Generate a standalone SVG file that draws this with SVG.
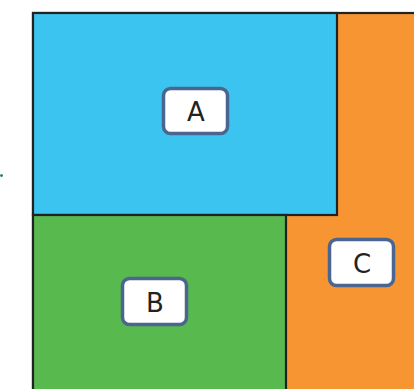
<svg xmlns="http://www.w3.org/2000/svg" width="414" height="389" viewBox="0 0 414 389">
<style>
.area{stroke:#222;stroke-width:2.2}
.lbl{fill:#fff;stroke:#4a6690;stroke-width:3.5}
.t{font-family:"DejaVu Sans",sans-serif;font-size:26px;fill:#222;text-anchor:middle;dominant-baseline:central}
</style>
<rect width="414" height="389" fill="#fff"/>
<g id="C">
<rect class="area" x="33" y="13" width="390" height="390" fill="#f79533"/>
<rect class="lbl" x="329.5" y="239.5" width="64" height="46" rx="7"/>
<text class="t" x="362" y="264">C</text>
</g>
<g id="A">
<rect class="area" x="33" y="13" width="304" height="202" fill="#3bc4ef"/>
<rect class="lbl" x="163.5" y="88.5" width="64" height="45" rx="7"/>
<text class="t" x="196" y="112">A</text>
</g>
<g id="B">
<rect class="area" x="33" y="215" width="253" height="190" fill="#58b94f"/>
<rect class="lbl" x="122.5" y="278.5" width="64" height="46" rx="7"/>
<text class="t" x="155" y="303">B</text>
</g>
<g id="connectors">
<path d="M0,175.5 H3 M1.5,174 V177" stroke="#1a9a50" stroke-width="1.5" fill="none"/>
</g>
</svg>
